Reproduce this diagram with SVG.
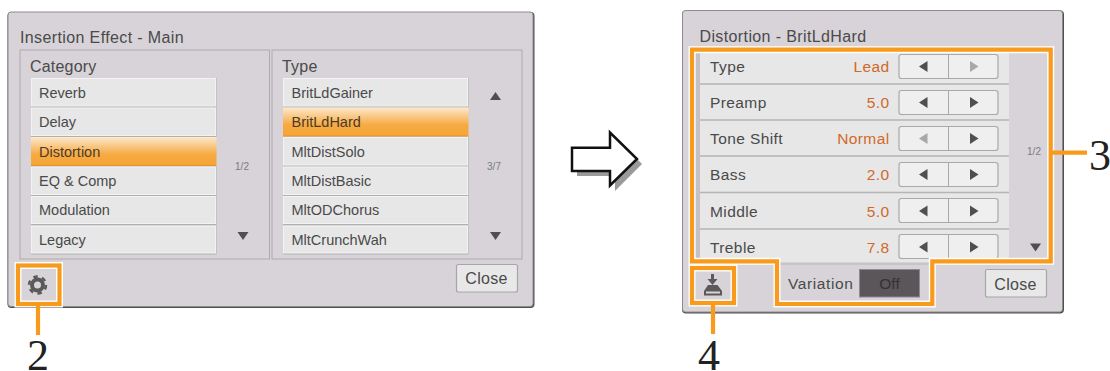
<svg xmlns="http://www.w3.org/2000/svg" width="1110" height="371" viewBox="0 0 1110 371">
<style>
text{font-family:"Liberation Sans",Arial,sans-serif;fill:#4a4a4a}
.dlg{fill:#d7d3d8;stroke:#8c8c8c;stroke-width:1}
.shade{fill:none;stroke:#4f4f4f;stroke-width:2}
.pane{fill:#d7d3d8;stroke:#aeaaae;stroke-width:1}
.h{font-size:16px;letter-spacing:.38px}
.g{font-size:16px;letter-spacing:.2px}
.i{font-size:14.5px}
.r{font-size:15.5px;letter-spacing:.4px}
.v{font-size:15.5px;letter-spacing:.4px;fill:#d0692a;text-anchor:end}
.pg{font-size:10px;fill:#7c7c7c;text-anchor:middle}
.bs{fill:#b0b0b0}
.btn{fill:#e7e7e7;stroke:#f3f3f3;stroke-width:1}
.sel{fill:url(#selg)}
.row{fill:#e7e7e7}
.sep{stroke:#b5b5b5;stroke-width:1.5}
.ctl{fill:#efefef;stroke:#a9a9a9;stroke-width:1.2}
.div{stroke:#a9a9a9;stroke-width:1}
.tri{fill:#4f4f4f}
.dim{fill:#a8a8a8}
.close{fill:#e8e8e8;stroke:#a6a6a6;stroke-width:1.2}
.ct{font-size:16px;text-anchor:middle;letter-spacing:.3px}
.halo{fill:none;stroke:#fff;stroke-width:7}
.ora{fill:none;stroke:#f89b1c;stroke-width:4.2}
.num{font-family:"Liberation Serif","Times New Roman",serif;font-size:44px;fill:#222}
</style>
<defs>
<linearGradient id="selg" x1="0" y1="0" x2="0" y2="1"><stop offset="0" stop-color="#fce9cd"/><stop offset=".6" stop-color="#f6aa42"/><stop offset=".95" stop-color="#f5a537"/><stop offset="1" stop-color="#dd8a28"/></linearGradient>
</defs>

<g id="panel-left">
<rect class="shade" x="8.5" y="13" width="525" height="294" rx="3"/>
<rect class="dlg" x="8" y="12" width="525" height="294.5" rx="3"/>
<text class="h" x="20" y="43">Insertion Effect - Main</text>
</g>
<g id="category">
<rect class="pane" x="20" y="50" width="249.5" height="209"/>
<text class="g" x="30" y="72">Category</text>
<rect class="bs" x="31" y="78" width="185.500" height="29.500"/><rect class="btn" x="31.500" y="78.500" width="184" height="27.500"/><text class="i" x="39" y="97.500">Reverb</text>
<rect class="bs" x="31" y="107.500" width="185.500" height="29.500"/><rect class="btn" x="31.500" y="108" width="184" height="27.500"/><text class="i" x="39" y="127">Delay</text>
<rect class="sel" x="31" y="137" width="185.500" height="29"/><text class="i" x="39" y="156.500" style="fill:#4d3b26">Distortion</text>
<rect class="bs" x="31" y="166.500" width="185.500" height="29.500"/><rect class="btn" x="31.500" y="167" width="184" height="27.500"/><text class="i" x="39" y="186">EQ &amp; Comp</text>
<rect class="bs" x="31" y="196" width="185.500" height="29"/><rect class="btn" x="31.500" y="196.500" width="184" height="27"/><text class="i" x="39" y="215">Modulation</text>
<rect class="bs" x="31" y="225.500" width="185.500" height="29"/><rect class="btn" x="31.500" y="226" width="184" height="27"/><text class="i" x="39" y="244.500">Legacy</text>
<text class="pg" x="242" y="170">1/2</text>
<polygon class="tri" points="237.500,232 248.500,232 243,240"/>
</g>
<g id="type">
<rect class="pane" x="272" y="50" width="250" height="209"/>
<text class="g" x="282" y="72">Type</text>
<rect class="bs" x="283" y="78" width="185.500" height="29.500"/><rect class="btn" x="283.500" y="78.500" width="184" height="27.500"/><text class="i" x="291.500" y="97.500">BritLdGainer</text>
<rect class="sel" x="283" y="107.500" width="185.500" height="29"/><text class="i" x="291.500" y="127" style="fill:#4d3b26">BritLdHard</text>
<rect class="bs" x="283" y="137" width="185.500" height="29.500"/><rect class="btn" x="283.500" y="137.500" width="184" height="27.500"/><text class="i" x="291.500" y="156.500">MltDistSolo</text>
<rect class="bs" x="283" y="166.500" width="185.500" height="29.500"/><rect class="btn" x="283.500" y="167" width="184" height="27.500"/><text class="i" x="291.500" y="186">MltDistBasic</text>
<rect class="bs" x="283" y="196" width="185.500" height="29"/><rect class="btn" x="283.500" y="196.500" width="184" height="27"/><text class="i" x="291.500" y="215">MltODChorus</text>
<rect class="bs" x="283" y="225.500" width="185.500" height="29"/><rect class="btn" x="283.500" y="226" width="184" height="27"/><text class="i" x="291.500" y="244.500">MltCrunchWah</text>
<polygon class="tri" points="490,100 501,100 495.500,92"/>
<text class="pg" x="494" y="170">3/7</text>
<polygon class="tri" points="490,232 501,232 495.500,240"/>
</g>
<g id="close-left">
<rect class="close" x="456.500" y="264.500" width="61" height="27.500" rx="2"/>
<text class="ct" x="486.500" y="284">Close</text>
</g>
<g id="gear">
<circle cx="37.500" cy="285" r="5.500" fill="none" stroke="#5a5a5a" stroke-width="4"/>
<circle cx="37.500" cy="285" r="8.500" fill="none" stroke="#5a5a5a" stroke-width="2.500" stroke-dasharray="4.450 4.450"/>
</g>

<g id="arrow">
<polygon points="577,152 615,152 615,137 642,164 615,191 615,176 577,176" fill="#9a9a9a"/>
<polygon points="572,147.700 610,147.700 610,132.500 637,159 610,185.500 610,171 572,171" fill="#fff" stroke="#111" stroke-width="2.500"/>
</g>

<g id="panel-right">
<rect class="shade" x="683" y="11.500" width="380" height="301" rx="3"/>
<rect class="dlg" x="682.500" y="10.500" width="380" height="301.500" rx="3"/>
<text class="h" x="699.500" y="41.700">Distortion - BritLdHard</text>
<rect x="696" y="50" width="4" height="212" fill="#c4c0c4"/>
</g>
<g id="param-rows">
<rect class="row" x="700" y="50" width="309" height="212"/>
<line class="sep" x1="700" y1="84" x2="1009" y2="84"/>
<line class="sep" x1="700" y1="120" x2="1009" y2="120"/>
<line class="sep" x1="700" y1="156" x2="1009" y2="156"/>
<line class="sep" x1="700" y1="192.500" x2="1009" y2="192.500"/>
<line class="sep" x1="700" y1="229" x2="1009" y2="229"/>
<text class="r" x="710" y="72">Type</text><text class="v" x="889.500" y="72">Lead</text>
<text class="r" x="710" y="108">Preamp</text><text class="v" x="889.500" y="108">5.0</text>
<text class="r" x="710" y="144">Tone Shift</text><text class="v" x="889.500" y="144">Normal</text>
<text class="r" x="710" y="180">Bass</text><text class="v" x="889.500" y="180">2.0</text>
<text class="r" x="710" y="216.500">Middle</text><text class="v" x="889.500" y="216.500">5.0</text>
<text class="r" x="710" y="252.500">Treble</text><text class="v" x="889.500" y="252.500">7.8</text>
</g>
<g id="param-buttons">
<rect class="ctl" x="899" y="54.500" width="99" height="24" rx="2.500"/><line class="div" x1="948.500" y1="55" x2="948.500" y2="78"/>
<rect class="ctl" x="899" y="90.500" width="99" height="24" rx="2.500"/><line class="div" x1="948.500" y1="91" x2="948.500" y2="114"/>
<rect class="ctl" x="899" y="126.500" width="99" height="24" rx="2.500"/><line class="div" x1="948.500" y1="127" x2="948.500" y2="150"/>
<rect class="ctl" x="899" y="162.500" width="99" height="24" rx="2.500"/><line class="div" x1="948.500" y1="163" x2="948.500" y2="186"/>
<rect class="ctl" x="899" y="198.500" width="99" height="24" rx="2.500"/><line class="div" x1="948.500" y1="199" x2="948.500" y2="222"/>
<rect class="ctl" x="899" y="234.500" width="99" height="24" rx="2.500"/><line class="div" x1="948.500" y1="235" x2="948.500" y2="258"/>
<polygon class="tri" points="927.500,61 927.500,72 919,66.500"/><polygon class="dim" points="970,61 970,72 978.500,66.500"/>
<polygon class="tri" points="927.500,97 927.500,108 919,102.500"/><polygon class="tri" points="970,97 970,108 978.500,102.500"/>
<polygon class="dim" points="927.500,133 927.500,144 919,138.500"/><polygon class="tri" points="970,133 970,144 978.500,138.500"/>
<polygon class="tri" points="927.500,169 927.500,180 919,174.500"/><polygon class="tri" points="970,169 970,180 978.500,174.500"/>
<polygon class="tri" points="927.500,205.500 927.500,216.500 919,211"/><polygon class="tri" points="970,205.500 970,216.500 978.500,211"/>
<polygon class="tri" points="927.500,241.500 927.500,252.500 919,247"/><polygon class="tri" points="970,241.500 970,252.500 978.500,247"/>
<text class="pg" x="1034" y="155">1/2</text>
<polygon class="tri" points="1030,243.500 1041,243.500 1035.500,251.500"/>
</g>
<g id="variation">
<line x1="777" y1="264" x2="932" y2="264" stroke="#b5b5b5" stroke-width="1"/>
<text class="r" x="788" y="289" style="letter-spacing:.6px">Variation</text>
<rect x="859.500" y="269.500" width="60" height="27.500" fill="#5a565a" stroke="#8d8a8d" stroke-width="1"/>
<text x="889.500" y="288.500" text-anchor="middle" font-size="15.500" style="fill:#343234">Off</text>
</g>
<g id="close-right">
<rect class="close" x="985.500" y="269.500" width="61" height="27.500" rx="2"/>
<text class="ct" x="1015.500" y="289.500">Close</text>
</g>
<g id="store-icon">
<polygon points="711,274 714,274 714,279 717.500,279 712.500,285 707.500,279 711,279" fill="#5a5a5a"/>
<polygon points="708,285 717.500,285 722,291 722,295.500 704,295.500 704,291" fill="#5a5a5a"/>
<rect x="706" y="291.500" width="14" height="2" fill="#d7d3d8"/>
</g>

<g id="connectors">
<g id="callout-2">
<rect class="halo" x="18" y="265.500" width="41.500" height="38.500"/>
<rect class="ora" x="18" y="265.500" width="41.500" height="38.500"/>
<line class="ora" x1="38" y1="304" x2="38" y2="335"/>
</g>
<g id="callout-3">
<path class="halo" d="M692 49.700H1050.700V261.300H932.300V304H777V261.300H692Z"/>
<path class="ora" d="M692 49.700H1050.700V261.300H932.300V304H777V261.300H692Z"/>
<line class="ora" x1="1050" y1="152.700" x2="1087" y2="152.700"/>
</g>
<g id="callout-4">
<rect class="halo" x="692" y="268" width="42" height="35"/>
<rect class="ora" x="692" y="268" width="42" height="35"/>
<line class="ora" x1="713" y1="303" x2="713" y2="334"/>
</g>
</g>
<text class="num" x="27" y="370">2</text>
<text class="num" x="1089" y="170">3</text>
<text class="num" x="698" y="369.500">4</text>
</svg>
